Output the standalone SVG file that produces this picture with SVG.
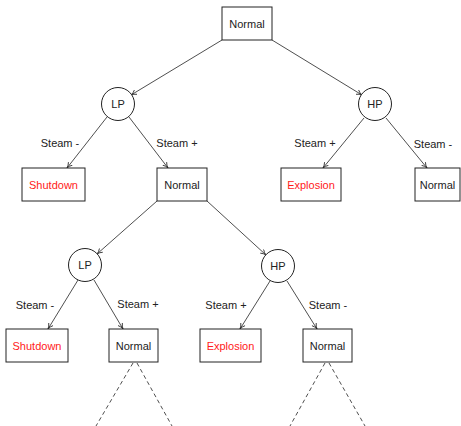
<svg xmlns="http://www.w3.org/2000/svg" width="461" height="426" viewBox="0 0 461 426">
<style>
text{font-family:"Liberation Sans","DejaVu Sans",sans-serif;font-size:11px;fill:#222;text-anchor:middle;dominant-baseline:central}
.red{fill:#ff1a1a}
.box{fill:#fff;stroke:#222;stroke-width:1}
.circ{fill:#fff;stroke:#222;stroke-width:1}
.edge{stroke:#222;stroke-width:0.8;fill:none;marker-end:url(#arr)}
.dash{stroke:#222;stroke-width:0.8;fill:none;stroke-dasharray:4,3}
</style>
<defs>
<marker id="arr" markerUnits="userSpaceOnUse" markerWidth="8" markerHeight="8" refX="6" refY="3" orient="auto">
<path d="M0.5,0.5 Q3,2.5 6,3 Q3,3.5 0.5,5.5" fill="none" stroke="#222" stroke-width="0.8"/>
</marker>
</defs>
<rect width="461" height="426" fill="#fff"/>
<g id="connectors">
<line class="edge" x1="222" y1="40" x2="131" y2="95"/>
<line class="edge" x1="272" y1="40" x2="362" y2="95"/>
<line class="edge" x1="107" y1="117" x2="67" y2="168"/>
<line class="edge" x1="129" y1="117" x2="168" y2="168"/>
<line class="edge" x1="364" y1="118" x2="323" y2="168"/>
<line class="edge" x1="386" y1="118" x2="427" y2="168"/>
<line class="edge" x1="157" y1="201" x2="97" y2="254"/>
<line class="edge" x1="207" y1="201" x2="266" y2="255"/>
<line class="edge" x1="78" y1="280" x2="48" y2="329"/>
<line class="edge" x1="94" y1="280" x2="123" y2="329"/>
<line class="edge" x1="270" y1="281" x2="240" y2="329"/>
<line class="edge" x1="287" y1="281" x2="317" y2="329"/>
<line class="dash" x1="133" y1="363" x2="96" y2="426"/>
<line class="dash" x1="137" y1="363" x2="172" y2="426"/>
<line class="dash" x1="325" y1="363" x2="290" y2="426"/>
<line class="dash" x1="329" y1="363" x2="365" y2="426"/>
<text x="60" y="143">Steam -</text>
<text x="177" y="143">Steam +</text>
<text x="315" y="143">Steam +</text>
<text x="433" y="144">Steam -</text>
<text x="35" y="305">Steam -</text>
<text x="138" y="304">Steam +</text>
<text x="226" y="305">Steam +</text>
<text x="328" y="305">Steam -</text>
</g>
<g id="n0"><rect class="box" x="222" y="7" width="50" height="33"/><text x="247" y="23.5">Normal</text></g>
<g id="lp1"><circle class="circ" cx="118" cy="104" r="16.5"/><text x="118" y="104">LP</text></g>
<g id="hp1"><circle class="circ" cx="375" cy="104" r="16.5"/><text x="375" y="104">HP</text></g>
<g id="sd1"><rect class="box" x="22" y="168" width="63" height="33"/><text class="red" x="53.5" y="184.5">Shutdown</text></g>
<g id="n1"><rect class="box" x="157" y="168" width="50" height="33"/><text x="182" y="184.5">Normal</text></g>
<g id="ex1"><rect class="box" x="281" y="168" width="60" height="33"/><text class="red" x="311" y="184.5">Explosion</text></g>
<g id="n2"><rect class="box" x="415" y="168" width="45" height="33"/><text x="437.5" y="184.5">Normal</text></g>
<g id="lp2"><circle class="circ" cx="85" cy="265" r="16.5"/><text x="85" y="265">LP</text></g>
<g id="hp2"><circle class="circ" cx="278" cy="266" r="16.5"/><text x="278" y="266">HP</text></g>
<g id="sd2"><rect class="box" x="6" y="329" width="62" height="33"/><text class="red" x="37" y="345.5">Shutdown</text></g>
<g id="n3"><rect class="box" x="109" y="329" width="49" height="33"/><text x="133.5" y="345.5">Normal</text></g>
<g id="ex2"><rect class="box" x="200" y="329" width="61" height="33"/><text class="red" x="230.5" y="345.5">Explosion</text></g>
<g id="n4"><rect class="box" x="303" y="329" width="49" height="33"/><text x="327.5" y="345.5">Normal</text></g>
</svg>
